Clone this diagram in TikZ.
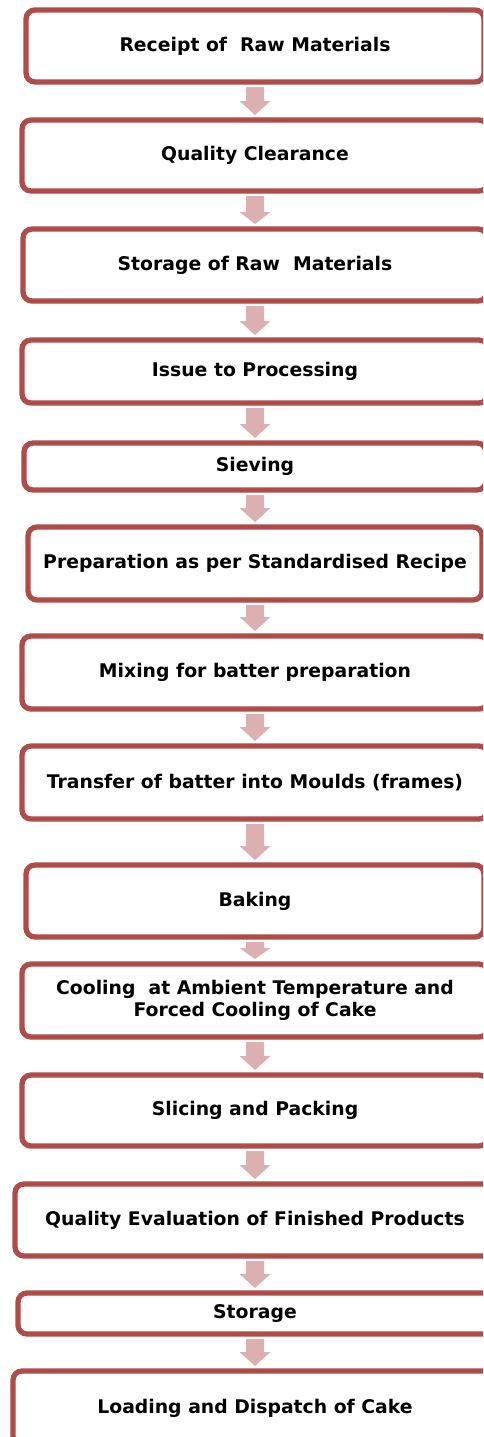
\documentclass[tikz,border=0pt]{standalone}
\usepackage{fontspec}
\setmainfont{DejaVu Sans}
\usetikzlibrary{calc}
\definecolor{boxred}{RGB}{176,76,72}
\definecolor{arrowpink}{RGB}{220,176,176}
\tikzset{
  stepbox/.style={draw=boxred, line width=5.3pt, rounded corners=9pt, fill=white,
    inner sep=0pt, outer sep=0pt, align=center,
    font=\fontsize{18.8}{22.5}\selectfont\bfseries},
}
\newcommand\flowarrow[3][14]{%
  \fill[arrowpink] let \p1=(#2.south), \p2=(#3.north) in
    (\x1-9pt,\y1-5pt) -- (\x1+9pt,\y1-5pt) -- (\x1+9pt,\y2+5pt+#1pt)
    -- (\x1+15.5pt,\y2+5pt+#1pt) -- (\x1,\y2+5pt) -- (\x1-15.5pt,\y2+5pt+#1pt)
    -- (\x1-9pt,\y2+5pt+#1pt) -- cycle;}
\begin{document}
\begin{tikzpicture}[x=1pt,y=-1pt]
\useasboundingbox (0,0) rectangle (483,1437);
\clip (0,0) rectangle (483,1437);
\node[stepbox, minimum width=458pt, minimum height=72pt] (b1) at (255,46) {Receipt of \ Raw Materials};
\node[stepbox, minimum width=466pt, minimum height=71pt] (b2) at (255,155.5) {Quality Clearance};
\node[stepbox, minimum width=464pt, minimum height=72pt] (b3) at (255,265) {Storage of Raw \ Materials};
\node[stepbox, minimum width=466pt, minimum height=63pt] (b4) at (255,371.5) {Issue to Processing};
\node[stepbox, minimum width=462pt, minimum height=47pt] (b5) at (255,466.5) {Sieving};
\node[stepbox, minimum width=454pt, minimum height=73pt] (b6) at (255,563.5) {Preparation as per Standardised Recipe};
\node[stepbox, minimum width=466pt, minimum height=73pt] (b7) at (255,672.5) {Mixing for batter preparation};
\node[stepbox, minimum width=466pt, minimum height=73pt] (b8) at (255,782.5) {Transfer of batter into Moulds (frames)};
\node[stepbox, minimum width=458pt, minimum height=72pt] (b9) at (255,901) {Baking};
\node[stepbox, minimum width=466pt, minimum height=73pt] (b10) at (255,1000.5) {Cooling \ at Ambient Temperature and\\Forced Cooling of Cake};
\node[stepbox, minimum width=466pt, minimum height=71pt] (b11) at (255,1110.5) {Slicing and Packing};
\node[stepbox, minimum width=480pt, minimum height=72pt] (b12) at (255,1220) {Quality Evaluation of Finished Products};
\node[stepbox, minimum width=474pt, minimum height=41pt] (b13) at (255,1313.5) {Storage};
\node[stepbox, minimum width=484pt, minimum height=74pt] (b14) at (255,1408) {Loading and Dispatch of Cake};
\flowarrow{b1}{b2}
\flowarrow[12]{b2}{b3}
\flowarrow{b3}{b4}
\flowarrow{b4}{b5}
\flowarrow{b5}{b6}
\flowarrow{b6}{b7}
\flowarrow{b7}{b8}
\flowarrow{b8}{b9}
\flowarrow[11]{b9}{b10}
\flowarrow{b10}{b11}
\flowarrow{b11}{b12}
\flowarrow{b12}{b13}
\flowarrow{b13}{b14}
\end{tikzpicture}
\end{document}
